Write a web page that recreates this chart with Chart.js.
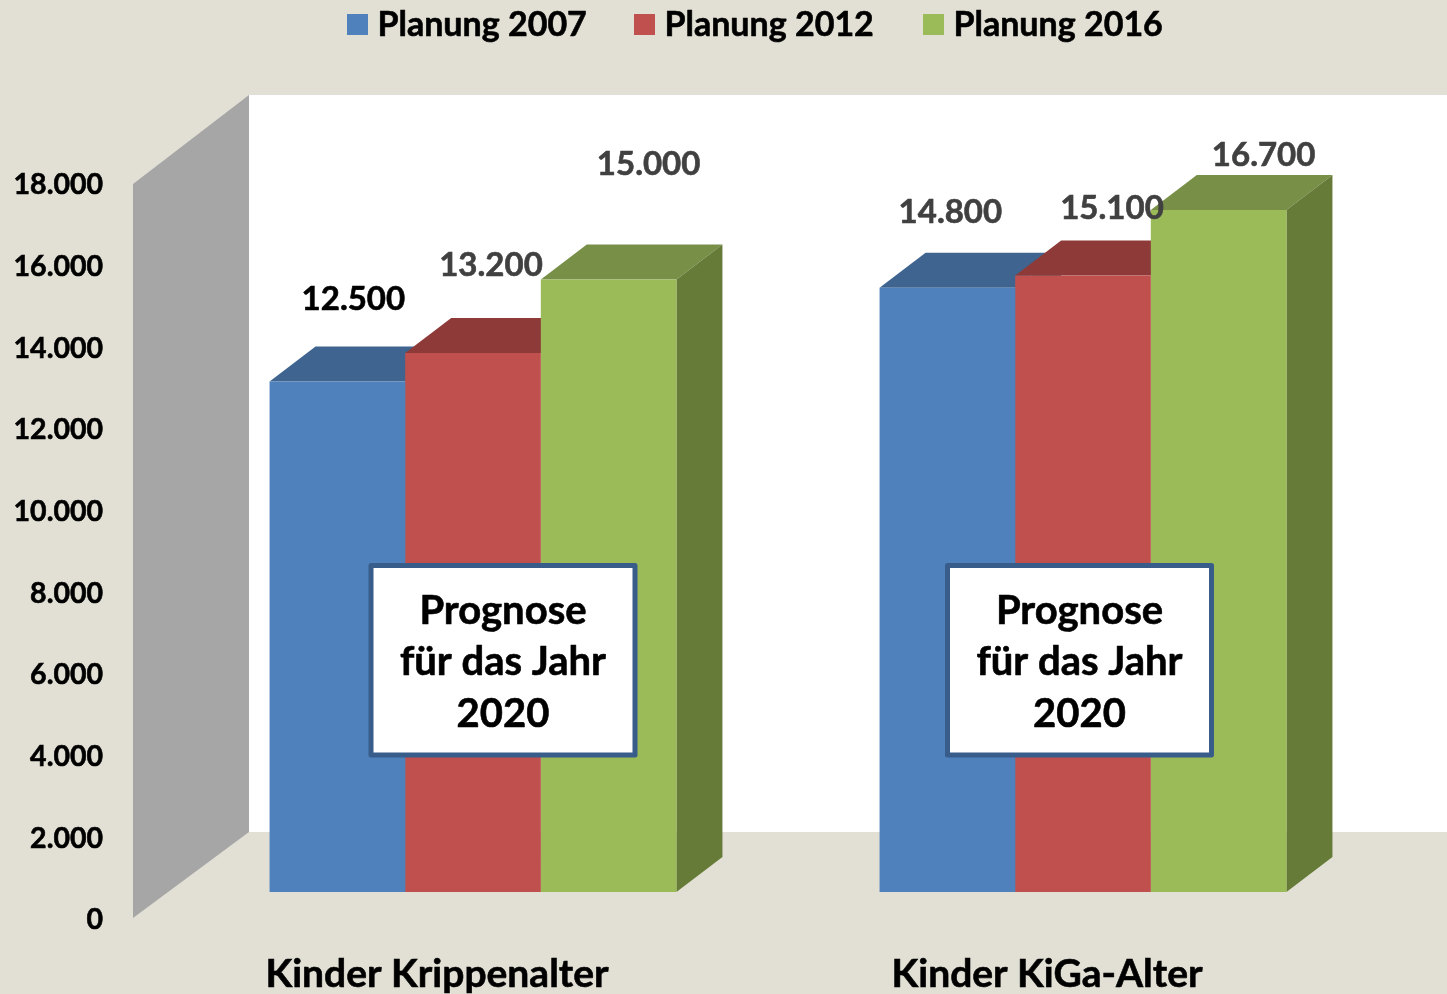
<!DOCTYPE html>
<html>
<head>
<meta charset="utf-8">
<style>
  html, body { margin: 0; padding: 0; background: #e2e0d5; }
  canvas { display: block; }
</style>
<script src="https://cdn.jsdelivr.net/npm/chart.js@4/dist/chart.umd.min.js"></script>
</head>
<body>
<canvas id="chart" width="1447" height="994"></canvas>
<script>
const categories = ['Kinder Krippenalter', 'Kinder KiGa-Alter'];
const seriesNames = ['Planung 2007', 'Planung 2012', 'Planung 2016'];
const planung2007 = [12500, 14800];
const planung2012 = [13200, 15100];
const planung2016 = [15000, 16700];
const tickValues = [0, 2000, 4000, 6000, 8000, 10000, 12000, 14000, 16000, 18000];
const noteLines = ['Prognose', 'für das Jahr', '2020'];

const FONT = 'Lato, Carlito, sans-serif';
const front = ['#4f81bd', '#c0504d', '#9bbb59'];
const top3d = ['#3f648f', '#8e3a38', '#778f46'];
const side3d = ['#3a5c85', '#843634', '#667b38'];
const labelColors = [['#000000', '#404040'], ['#404040', '#404040'], ['#404040', '#404040']];
// labels don't sit centered over the bars in the original, offset from bar center / top
const labelOffsets = [[[16, -82.5], [3, -75.5]], [[18, -88], [29, -67.5]], [[40, -115.5], [45, -55]]];

const fmt = (v) => v.toLocaleString('de-DE');

// fill plus a thin outline, Lato bold alone looks too light next to the original
function boldText(ctx, text, x, y, color) {
  ctx.fillStyle = color;
  ctx.strokeStyle = color;
  ctx.lineWidth = 0.6;
  ctx.strokeText(text, x, y);
  ctx.fillText(text, x, y);
}

const scene = {
  id: 'scene',
  beforeDatasetsDraw(chart) {
    const { ctx } = chart;
    const y = chart.scales.y;
    const y0 = y.getPixelForValue(0);
    const yMax = y.getPixelForValue(18000);
    ctx.save();
    // back wall
    ctx.fillStyle = '#ffffff';
    ctx.fillRect(249, 95, chart.width - 249, y0 - 60 - 95);
    // side wall
    ctx.fillStyle = '#a6a6a6';
    ctx.beginPath();
    ctx.moveTo(133, yMax + 27);
    ctx.lineTo(249, 95);
    ctx.lineTo(249, y0 - 60);
    ctx.lineTo(133, y0 + 26);
    ctx.closePath();
    ctx.fill();
    // top and side faces, series by series, the fronts get painted over them afterwards
    const dx = 46, dy = 35;
    chart.data.datasets.forEach((ds, i) => {
      chart.getDatasetMeta(i).data.forEach((bar) => {
        const l = bar.x - bar.width / 2;
        const r = bar.x + bar.width / 2;
        ctx.fillStyle = top3d[i];
        ctx.beginPath();
        ctx.moveTo(l, bar.y);
        ctx.lineTo(l + dx, bar.y - dy);
        ctx.lineTo(r + dx, bar.y - dy);
        ctx.lineTo(r, bar.y);
        ctx.closePath();
        ctx.fill();
        ctx.fillStyle = side3d[i];
        ctx.beginPath();
        ctx.moveTo(r, bar.y);
        ctx.lineTo(r + dx, bar.y - dy);
        ctx.lineTo(r + dx, bar.base - dy);
        ctx.lineTo(r, bar.base);
        ctx.closePath();
        ctx.fill();
      });
    });
    ctx.restore();
  },
  afterDatasetsDraw(chart) {
    const { ctx } = chart;
    ctx.save();
    // value labels
    ctx.font = 'bold 33px ' + FONT;
    ctx.textAlign = 'center';
    ctx.textBaseline = 'middle';
    chart.data.datasets.forEach((ds, i) => {
      chart.getDatasetMeta(i).data.forEach((bar, j) => {
        const [ox, oy] = labelOffsets[i][j];
        boldText(ctx, fmt(ds.data[j]), bar.x + ox, bar.y + oy, labelColors[i][j]);
      });
    });
    // note boxes
    [503, 1079.5].forEach((cx) => {
      ctx.fillStyle = '#ffffff';
      ctx.strokeStyle = '#385d8a';
      ctx.lineWidth = 5;
      ctx.lineJoin = 'round';
      ctx.fillRect(cx - 132, 565.5, 264, 189.5);
      ctx.strokeRect(cx - 132, 565.5, 264, 189.5);
      ctx.font = 'bold 40px ' + FONT;
      noteLines.forEach((line, n) => boldText(ctx, line, cx, 611 + n * 51.5, '#000000'));
    });
    // legend
    const swatchX = [347, 634, 923];
    ctx.textAlign = 'left';
    ctx.font = 'bold 34px ' + FONT;
    chart.data.datasets.forEach((ds, i) => {
      ctx.fillStyle = front[i];
      ctx.fillRect(swatchX[i], 14, 21, 21);
      boldText(ctx, ds.label, swatchX[i] + 30.5, 25, '#000000');
    });
    ctx.restore();
  },
};

new Chart(document.getElementById('chart'), {
  type: 'bar',
  plugins: [scene],
  data: {
    labels: categories,
    datasets: [
      { label: seriesNames[0], data: planung2007, backgroundColor: front[0] },
      { label: seriesNames[1], data: planung2012, backgroundColor: front[1] },
      { label: seriesNames[2], data: planung2016, backgroundColor: front[2] },
    ],
  },
  options: {
    responsive: false,
    animation: false,
    events: [],
    layout: { padding: { top: 157, right: 59, left: 0, bottom: 0 } },
    plugins: { legend: { display: false }, tooltip: { enabled: false } },
    datasets: { bar: { barPercentage: 1, categoryPercentage: 0.667, borderWidth: 0 } },
    scales: {
      x: {
        grid: { display: false, drawTicks: false },
        border: { display: false },
        ticks: {
          color: '#000000',
          font: { family: FONT, size: 39, weight: 'bold' },
          textStrokeColor: '#000000',
          textStrokeWidth: 0.6,
          padding: 59.5,
          labelOffset: -36,
          maxRotation: 0,
          autoSkip: false,
        },
        afterFit(s) { s.height = 102; },
      },
      y: {
        min: 0,
        max: 18000,
        grid: { display: false, drawTicks: false },
        border: { display: false },
        afterBuildTicks(s) { s.ticks = tickValues.map((value) => ({ value })); },
        ticks: {
          color: '#000000',
          font: { family: FONT, size: 28.5, weight: 'bold' },
          textStrokeColor: '#000000',
          textStrokeWidth: 0.6,
          padding: 65,
          labelOffset: 28,
          callback: (v) => fmt(v),
        },
        afterFit(s) { s.width = 168; },
      },
    },
  },
});
</script>
</body>
</html>
